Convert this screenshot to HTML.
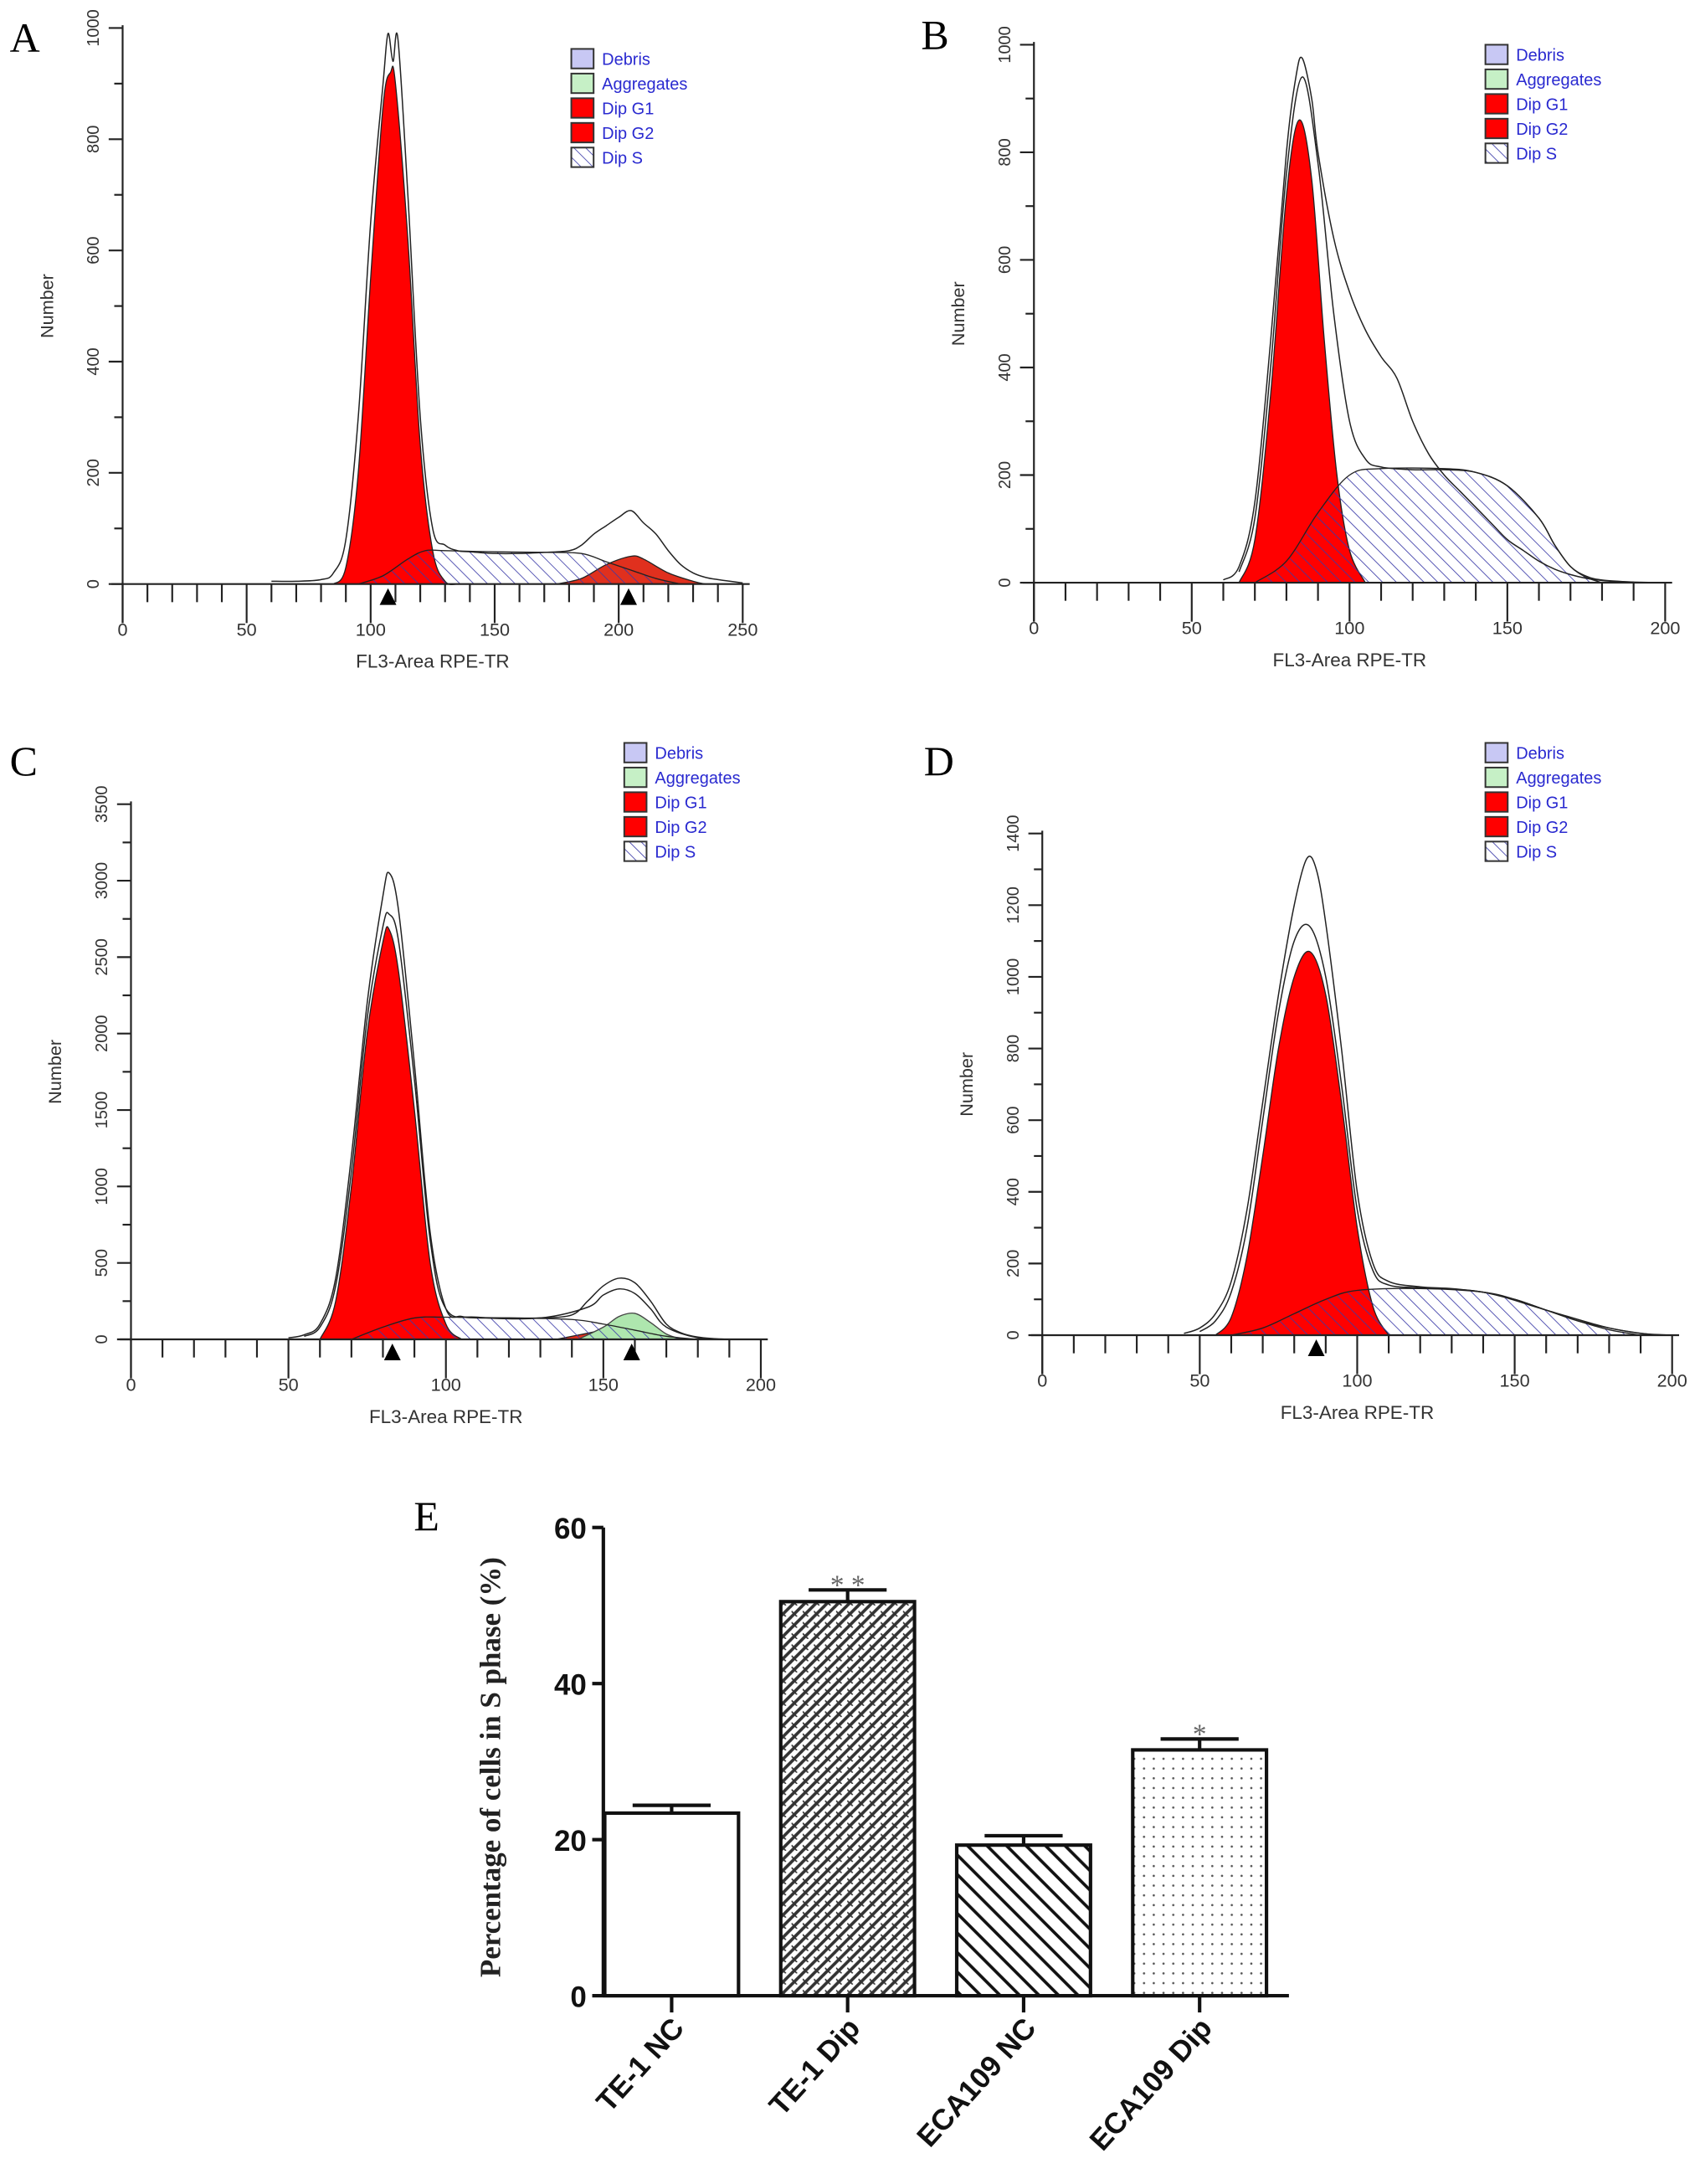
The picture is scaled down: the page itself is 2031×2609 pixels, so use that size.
<!DOCTYPE html>
<html><head><meta charset="utf-8">
<style>
html,body{margin:0;padding:0;background:#fff;}
svg{display:block;}
</style></head>
<body>
<svg id="fig" width="2031" height="2609" viewBox="0 0 1220 1567" xmlns="http://www.w3.org/2000/svg" font-family="Liberation Sans, sans-serif">
<defs>
<pattern id="hatchS" patternUnits="userSpaceOnUse" width="7" height="7" patternTransform="rotate(-45)">
<line x1="0" y1="0" x2="0" y2="7" stroke="#3a3aa8" stroke-width="1"/>
</pattern>
<pattern id="hatchLeg" patternUnits="userSpaceOnUse" width="6" height="6" patternTransform="rotate(-45)">
<rect width="6" height="6" fill="#fff"/>
<line x1="0" y1="0" x2="0" y2="6" stroke="#3a3aa8" stroke-width="1"/>
</pattern>
<pattern id="patDip" patternUnits="userSpaceOnUse" width="8" height="8">
<rect width="8" height="8" fill="#fff"/>
<line x1="0" y1="8" x2="8" y2="0" stroke="#333" stroke-width="2.2"/>
<line x1="-4" y1="4" x2="4" y2="-4" stroke="#333" stroke-width="2.2"/>
<line x1="4" y1="12" x2="12" y2="4" stroke="#333" stroke-width="2.2"/>
<line x1="0" y1="4" x2="4" y2="8" stroke="#333" stroke-width="1"/>
</pattern>
<pattern id="patDiag" patternUnits="userSpaceOnUse" width="14" height="14">
<rect width="14" height="14" fill="#fff"/>
<line x1="0" y1="0" x2="14" y2="14" stroke="#111" stroke-width="2.2"/>
<line x1="-7" y1="7" x2="7" y2="21" stroke="#111" stroke-width="2.2"/>
<line x1="7" y1="-7" x2="21" y2="7" stroke="#111" stroke-width="2.2"/>
</pattern>
<pattern id="patDots" patternUnits="userSpaceOnUse" width="7" height="7">
<rect width="7" height="7" fill="#fff"/>
<circle cx="2" cy="2" r="0.8" fill="#555"/>
</pattern>
</defs>
</svg>
<script>
// ---------- Histogram data (x-channel, count) ----------
const histA_total = [[60,5],[70,5],[80,8],[85,20],[90,80],[95,300],[100,650],[105,900],[107,990],[109,940],[111,980],[115,700],[120,300],[125,100],[130,70],[135,60],[140,58],[150,55],[160,55],[170,57],[180,60],[185,70],[190,90],[195,105],[200,120],[205,132],[210,110],[215,90],[220,60],[225,35],[230,20],[235,12],[240,8],[245,5],[250,2]];
const histA_g1 = [[85,0],[90,30],[95,200],[100,550],[105,860],[108,920],[110,900],[115,620],[120,250],[125,60],[130,5],[135,0]];
const histA_s = [[95,0],[105,15],[115,45],[122,60],[130,60],[150,58],[170,57],[185,55],[195,40],[205,25],[215,10],[225,0]];
const histA_g2 = [[175,0],[185,10],[195,35],[205,50],[210,45],[220,20],[230,5],[235,0]];
const histA_agg = [];
const histA_marks = [107,204];

const histB_total = [[60,5],[65,30],[70,150],[75,450],[80,800],[83,940],[85,975],[88,900],[90,800],[95,640],[100,540],[105,470],[110,420],[115,380],[120,300],[125,240],[130,200],[135,170],[140,140],[145,110],[150,80],[155,60],[160,40],[165,25],[170,15],[175,8],[180,4],[185,2],[190,1],[200,0]];
const histB_fit = [[65,20],[70,120],[75,400],[80,760],[85,940],[90,780],[95,500],[100,300],[105,230],[110,215],[120,210],[130,210],[140,205],[150,180],[160,120],[165,70],[170,30],[175,12],[180,5],[190,1]];
const histB_g1 = [[65,0],[70,80],[75,350],[80,720],[84,860],[88,750],[92,450],[96,200],[100,60],[105,0]];
const histB_s = [[70,0],[80,40],[90,130],[100,200],[110,212],[130,212],[140,205],[150,180],[160,120],[165,70],[170,30],[175,10],[180,0]];
const histB_g2 = [];
const histB_marks = [];

const histC_total = [[50,10],[55,30],[60,100],[65,400],[70,1200],[75,2200],[80,2900],[82,3050],[85,2800],[90,1800],[95,700],[100,200],[105,150],[110,140],[120,140],[130,140],[140,160],[145,250],[150,350],[155,400],[160,370],[165,250],[170,100],[175,40],[180,15],[185,5],[190,0]];
const histC_fit = [[55,20],[60,80],[65,350],[70,1100],[75,2100],[80,2700],[82,2780],[85,2600],[90,1700],[95,650],[100,200],[110,145],[130,140],[145,210],[150,290],[155,330],[160,300],[165,200],[170,80],[180,10],[190,0]];
const histC_g1 = [[60,0],[65,250],[70,1000],[75,2000],[80,2600],[82,2680],[85,2400],[90,1500],[95,500],[100,100],[105,0]];
const histC_s = [[70,0],[80,80],[90,140],[100,145],[120,140],[140,130],[150,100],[160,60],[170,20],[180,0]];
const histC_g2 = [[135,0],[145,40],[155,80],[160,75],[170,20],[178,0]];
const histC_agg = [[142,0],[150,80],[155,150],[160,170],[165,110],[170,35],[175,0]];
const histC_marks = [83,159];

const histD_total = [[45,5],[50,20],[55,60],[60,150],[65,350],[70,650],[75,950],[80,1200],[84,1330],[87,1300],[90,1150],[95,800],[100,400],[105,200],[110,150],[120,135],[130,130],[140,120],[150,100],[160,70],[170,40],[180,20],[190,5],[200,0]];
const histD_fit = [[50,10],[55,40],[60,120],[65,300],[70,600],[75,900],[80,1100],[85,1140],[90,1000],[95,700],[100,350],[105,180],[110,140],[120,132],[140,120],[160,70],[180,20],[195,0]];
const histD_g1 = [[55,0],[60,50],[65,220],[70,500],[75,800],[80,1000],[85,1070],[90,950],[95,650],[100,300],[105,80],[110,0]];
const histD_s = [[60,0],[70,20],[80,60],[90,100],[100,125],[120,130],[140,120],[150,100],[160,70],[170,40],[180,15],[190,0]];
const histD_marks = [87];

// ---------- Bar chart data ----------
const barCategories = ["TE-1 NC","TE-1 Dip","ECA109 NC","ECA109 Dip"];
const barValues = [23.4, 50.5, 19.3, 31.5];
const barErrors = [1.0, 1.5, 1.2, 1.4];
const barStars = ["", "*  *", "", "*"];
const barTicks = [0,20,40,60];

const NS="http://www.w3.org/2000/svg";
const svg=document.getElementById('fig');
function mk(tag,attrs,parent){const e=document.createElementNS(NS,tag);for(const k in attrs)e.setAttribute(k,attrs[k]);(parent||svg).appendChild(e);return e;}

function smoothPath(pts){
  if(!pts.length)return "";
  let d="M"+pts[0][0]+","+pts[0][1];
  for(let i=0;i<pts.length-1;i++){
    const p0=pts[i-1]||pts[i],p1=pts[i],p2=pts[i+1],p3=pts[i+2]||p2;
    const c1=[p1[0]+(p2[0]-p0[0])/6,p1[1]+(p2[1]-p0[1])/6];
    const c2=[p2[0]-(p3[0]-p1[0])/6,p2[1]-(p3[1]-p1[1])/6];
    d+=" C"+c1[0]+","+c1[1]+" "+c2[0]+","+c2[1]+" "+p2[0]+","+p2[1];
  }
  return d;
}

function histPanel(cfg){
  const g=mk('g',{});
  
  
  const X=v=>cfg.x0+(v-0)/cfg.xmax*(cfg.x1-cfg.x0);
  const Y=v=>cfg.y0-v/cfg.ymax*(cfg.y0-cfg.y1);
  const area=(data,fill,stroke,name)=>{
    if(!data||!data.length)return;
    const pts=data.map(p=>[X(p[0]),Y(p[1])]);
    const p=mk('path',{d:smoothPath(pts)+" L"+pts[pts.length-1][0]+","+cfg.y0+" L"+pts[0][0]+","+cfg.y0+" Z",fill:fill,stroke:stroke,'stroke-width':0.8},g);
    
    
  };
  const line=(data,name)=>{
    if(!data||!data.length)return;
    const pts=data.map(p=>[X(p[0]),Y(p[1])]);
    const p=mk('path',{d:smoothPath(pts),fill:'none',stroke:'#222','stroke-width':0.9},g);
    
    
  };
  area(cfg.g1,'#ff0000','#222','g1-peak');
  area(cfg.g2,'#e0301e','#222','g2-peak');
  area(cfg.agg,'#aee6ae','#444','aggregates');
  area(cfg.s,'url(#hatchS)','#222','s-phase');
  line(cfg.fit,'fit-curve');
  line(cfg.total,'histogram-curve');
  const ax=mk('g',{stroke:'#222','stroke-width':1.3},g);
  
  
  mk('line',{x1:cfg.x0-8,y1:cfg.y0,x2:cfg.x1+5,y2:cfg.y0},ax);
  mk('line',{x1:cfg.x0,y1:cfg.y0+28,x2:cfg.x0,y2:cfg.y1-2},ax);
  for(let v=0;v<=cfg.xmax;v+=10){
    const major=v%50===0;
    mk('line',{x1:X(v),y1:cfg.y0,x2:X(v),y2:cfg.y0+(major?28:13)},ax);
    if(major){const t=mk('text',{x:X(v),y:cfg.y0+37,'font-size':13,'text-anchor':'middle',fill:'#333',stroke:'none'},g);t.textContent=v;
      }
  }
  for(let v=0;v<=cfg.ymax;v+=cfg.yminor){
    const major=Math.round(v/cfg.ymajor)*cfg.ymajor===v;
    mk('line',{x1:cfg.x0-(major?10:6),y1:Y(v),x2:cfg.x0,y2:Y(v)},ax);
    if(major){const t=mk('text',{x:0,y:0,'font-size':12,'text-anchor':'middle',fill:'#333',stroke:'none',transform:`translate(${cfg.x0-17},${Y(v)}) rotate(-90)`},g);t.textContent=v;
      }
  }
  const xt=mk('text',{x:(cfg.x0+cfg.x1)/2,y:cfg.y0+60,'font-size':13.5,'text-anchor':'middle',fill:'#333'},g);xt.textContent="FL3-Area RPE-TR";
  
  const yt=mk('text',{x:0,y:0,'font-size':13,'text-anchor':'middle',fill:'#333',transform:`translate(${cfg.x0-50},${(cfg.y0+cfg.y1)/2}) rotate(-90)`},g);yt.textContent="Number";
  
  cfg.marks.forEach(m=>{const p=mk('path',{d:`M${X(m)-6},${cfg.y0+15} L${X(m)+6},${cfg.y0+15} L${X(m)},${cfg.y0+3} Z`,fill:'#000'},g);
    });
  const L=mk('text',{x:cfg.lx,y:cfg.ly,'font-size':30,'font-family':'Liberation Serif, serif',fill:'#000'},g);L.textContent=cfg.letter;
  
  const leg=mk('g',{},g);
  
  const items=[["Debris","#c8c8f4"],["Aggregates","#c6f0c6"],["Dip G1","#ff0000"],["Dip G2","#ff0000"],["Dip S","url(#hatchLeg)"]];
  items.forEach((it,i)=>{
    const y=cfg.legy+i*17.7;
    const r=mk('rect',{x:cfg.legx,y:y-7,width:16,height:14,fill:it[1],stroke:'#333','stroke-width':1.2},leg);
    
    const t=mk('text',{x:cfg.legx+22,y:y+4.5,'font-size':12,fill:'#2a2ad0'},leg);t.textContent=it[0];
    
  });
}

histPanel({letter:'A',lx:7,ly:37,x0:88,x1:533,y0:419,y1:20,xmax:250,ymax:1000,ymajor:200,yminor:100,total:histA_total,g1:histA_g1,s:histA_s,g2:histA_g2,agg:histA_agg,marks:histA_marks,legx:410,legy:42});
histPanel({letter:'B',lx:661,ly:35,x0:742,x1:1195,y0:418,y1:32,xmax:200,ymax:1000,ymajor:200,yminor:100,total:histB_total,fit:histB_fit,g1:histB_g1,s:histB_s,g2:histB_g2,marks:histB_marks,legx:1066,legy:39});
histPanel({letter:'C',lx:7,ly:556,x0:94,x1:546,y0:961,y1:577,xmax:200,ymax:3500,ymajor:500,yminor:250,total:histC_total,fit:histC_fit,g1:histC_g1,s:histC_s,g2:histC_g2,agg:histC_agg,marks:histC_marks,legx:448,legy:540});
histPanel({letter:'D',lx:663,ly:556,x0:748,x1:1200,y0:958,y1:598,xmax:200,ymax:1400,ymajor:200,yminor:100,total:histD_total,fit:histD_fit,g1:histD_g1,s:histD_s,marks:histD_marks,legx:1066,legy:540});

// ---------- Bar chart E ----------
(function(){
  const g=mk('g',{});
  
  const x0=433,x1=925,y0=1432,yTop=1096,ymax=60;
  const Y=v=>y0-v/ymax*(y0-yTop);
  const firstCenter=482, step=126.3;
  const bw=96;
  const fills=['#fff','url(#patDip)','url(#patDiag)','url(#patDots)'];
  barCategories.forEach((c,i)=>{
    const cx=firstCenter+step*i;
    const r=mk('rect',{x:cx-bw/2,y:Y(barValues[i]),width:bw,height:y0-Y(barValues[i]),fill:fills[i],stroke:'#111','stroke-width':2.5},g);
    
    const eTop=Y(barValues[i]+barErrors[i]);
    const e=mk('path',{d:`M${cx},${Y(barValues[i])} L${cx},${eTop} M${cx-28},${eTop} L${cx+28},${eTop}`,stroke:'#111','stroke-width':2.5,fill:'none'},g);
    
    if(barStars[i]){const s=mk('text',{x:cx,y:eTop+3,'font-size':20,'text-anchor':'middle',fill:'#666','font-family':'Liberation Serif, serif','xml:space':'preserve'},g);s.textContent=barStars[i];
      }
    mk('line',{x1:cx,y1:y0,x2:cx,y2:y0+12,stroke:'#111','stroke-width':2.5},g);
    const t=mk('text',{x:0,y:0,'font-size':21,'font-weight':'bold','text-anchor':'end',fill:'#111',transform:`translate(${cx+10},${y0+24}) rotate(-48)`},g);t.textContent=c;
    
  });
  mk('line',{x1:x0,y1:y0,x2:x1,y2:y0,stroke:'#111','stroke-width':2.5},g);
  mk('line',{x1:x0,y1:y0,x2:x0,y2:yTop,stroke:'#111','stroke-width':2.5},g);
  barTicks.forEach(v=>{
    mk('line',{x1:x0-8,y1:Y(v),x2:x0,y2:Y(v),stroke:'#111','stroke-width':2.5},g);
    const t=mk('text',{x:x0-12,y:Y(v)+8,'font-size':21,'font-weight':'bold','text-anchor':'end',fill:'#111'},g);t.textContent=v;
    
  });
  const yt=mk('text',{x:0,y:0,'font-size':21,'font-weight':'bold','text-anchor':'middle',fill:'#222','font-family':'Liberation Serif, serif',transform:`translate(359,1268) rotate(-90)`},g);yt.textContent="Percentage of cells in S phase (%)";
  
  const L=mk('text',{x:297,y:1098,'font-size':30,'font-family':'Liberation Serif, serif',fill:'#000'},g);L.textContent="E";
  
})();
</script>
</body></html>
